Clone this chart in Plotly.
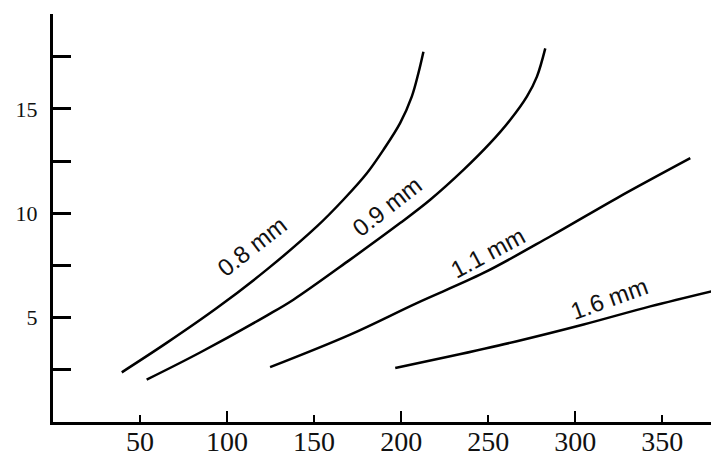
import plotly.graph_objects as go

# Curve data (x: 0..378, y: 0..19.5)
x_08 = [39.5, 65.3, 94.1, 122.8, 151.6, 166.8, 180.3, 189.8, 199.4, 206.1, 209.9, 212.8]
y_08 = [2.38, 3.79, 5.46, 7.30, 9.37, 10.65, 11.92, 13.04, 14.32, 15.59, 16.71, 17.74]

x_09 = [53.8, 84.5, 122.8, 138.1, 170.7, 199.4, 216.7, 235.8, 251.1, 262.6, 272.2, 278.0, 282.8]
y_09 = [2.03, 3.33, 5.10, 5.86, 7.78, 9.53, 10.65, 12.08, 13.36, 14.47, 15.59, 16.55, 17.90]

x_11 = [124.7, 170.7, 209.0, 247.3, 285.6, 324.0, 366.1]
y_11 = [2.63, 4.19, 5.70, 7.14, 8.89, 10.73, 12.64]

x_16 = [196.6, 228.2, 266.5, 304.8, 343.1, 378.2]
y_16 = [2.59, 3.15, 3.87, 4.67, 5.54, 6.26]

series_names = ["0.8 mm", "0.9 mm", "1.1 mm", "1.6 mm"]
label_x = [114.2, 191.8, 250.0, 319.5]
label_y = [8.41, 10.33, 8.10, 5.94]
label_angle = [-38, -38, -28, -20]

x_ticks = [50, 100, 150, 200, 250, 300, 350]
x_major_long = [100, 200, 300]
y_ticks = [5, 10, 15]
y_minor = [2.5, 7.5, 12.5, 17.5]

fig = go.Figure()
for xs, ys, name in zip([x_08, x_09, x_11, x_16], [y_08, y_09, y_11, y_16], series_names):
    fig.add_trace(go.Scatter(x=xs, y=ys, mode="lines", name=name,
                             line=dict(color="black", width=2.5, shape="spline", smoothing=1.0),
                             showlegend=False, hoverinfo="skip"))

for lx, ly, ang, name in zip(label_x, label_y, label_angle, series_names):
    fig.add_annotation(x=lx, y=ly, text=name, showarrow=False, textangle=ang,
                       font=dict(family="Liberation Sans, Arial", size=24, color="#111"))

# extra overlay axis for the longer ticks at 100, 200, 300
fig.add_trace(go.Scatter(x=[0], y=[0], xaxis="x2", mode="markers",
                         marker=dict(opacity=0), showlegend=False, hoverinfo="skip"))

fig.update_layout(
    width=711, height=457,
    margin=dict(l=53, r=0, t=14, b=35, autoexpand=False),
    paper_bgcolor="white", plot_bgcolor="white",
    xaxis=dict(range=[0, 378], tickvals=x_ticks, ticktext=[str(v) for v in x_ticks],
               ticks="inside", ticklen=7, tickwidth=2, tickcolor="black",
               showline=True, linewidth=3, linecolor="black", showgrid=False, zeroline=False,
               automargin=False, ticklabelstandoff=-8,
               tickfont=dict(family="Liberation Serif, Times New Roman", size=28, color="#111")),
    xaxis2=dict(range=[0, 378], overlaying="x", side="bottom", tickvals=x_major_long,
                ticks="inside", ticklen=11, tickwidth=2, tickcolor="black",
                showticklabels=False, showgrid=False, zeroline=False, showline=False),
    yaxis=dict(range=[0, 19.55], tickvals=y_ticks, ticktext=[str(v) for v in y_ticks],
               ticks="inside", ticklen=18, tickwidth=2.5, tickcolor="black",
               minor=dict(tickvals=y_minor, ticks="inside", ticklen=18, tickwidth=2.5, tickcolor="black"),
               showline=True, linewidth=3, linecolor="black", showgrid=False, zeroline=False,
               ticklabelstandoff=8, automargin=False,
               tickfont=dict(family="Liberation Serif, Times New Roman", size=22, color="#111")),
)

fig.write_html("out.html", config={"displayModeBar": False},
               post_script="document.body.style.margin='0px';document.body.style.overflow='hidden';")
